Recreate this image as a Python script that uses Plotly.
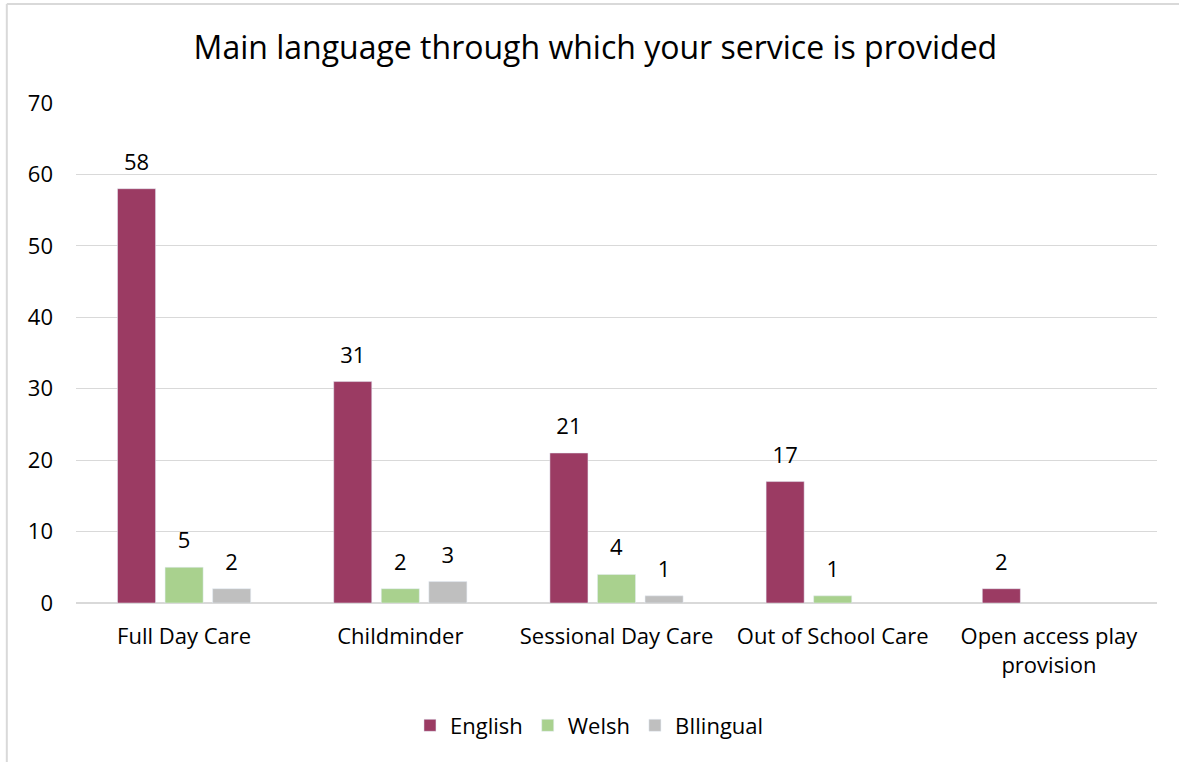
import plotly.graph_objects as go

categories = ["Full Day Care", "Childminder", "Sessional Day Care", "Out of School Care", "Open access play<br>provision"]
english = [58, 31, 21, 17, 2]
welsh = [5, 2, 4, 1, None]
bilingual = [2, 3, 1, None, None]

colors = {"English": "#9B3B63", "Welsh": "#A9D18E", "BIlingual": "#BFBFBF"}
font_family = "'Open Sans', sans-serif"

fig = go.Figure()
for name, vals in [("English", english), ("Welsh", welsh), ("BIlingual", bilingual)]:
    fig.add_trace(go.Bar(
        x=categories,
        y=vals,
        name=name,
        marker_color=colors[name],
        text=vals,
        # small second line lifts the value label a bit further off the bar
        texttemplate="<span style='font-size:22px'>%{text}</span><br> ",
        textposition="outside",
        textfont=dict(size=10, color="#000000"),
        cliponaxis=False,
    ))

fig.update_layout(
    width=1179,
    height=762,
    paper_bgcolor="white",
    plot_bgcolor="white",
    font=dict(family=font_family, color="#000000"),
    title=dict(text="Main language through which your service is provided",
               x=0.505, xanchor="center", y=0.937, yanchor="middle",
               font=dict(size=32, color="#000000")),
    barmode="group",
    bargap=0.34,
    bargroupgap=0.2,
    uniformtext=dict(mode=False),
    margin=dict(l=76, r=22, t=103, b=159),
    showlegend=True,
    legend=dict(orientation="h", x=0.475, xanchor="center", y=-0.245, yanchor="middle",
                font=dict(size=22), itemwidth=30, traceorder="normal"),
    xaxis=dict(showgrid=False, showline=False, ticks="", tickfont=dict(size=22),
               ticklabelstandoff=18),
    yaxis=dict(range=[0, 70], dtick=10, showgrid=True, gridcolor="#D9D9D9", gridwidth=1,
               zeroline=True, zerolinecolor="#D9D9D9", zerolinewidth=1.5,
               tickfont=dict(size=22), ticklabelstandoff=22),
)

# chart frame (left and top border)
fig.add_shape(type="line", xref="paper", yref="paper", x0=-0.064, x1=-0.064, y0=-0.33, y1=1.198,
              line=dict(color="#D9D9D9", width=2))
fig.add_shape(type="line", xref="paper", yref="paper", x0=-0.064, x1=1.03, y0=1.198, y1=1.198,
              line=dict(color="#D9D9D9", width=2))

fig.write_html("out.html", config={"displayModeBar": False},
               post_script="document.body.style.margin='0';")
